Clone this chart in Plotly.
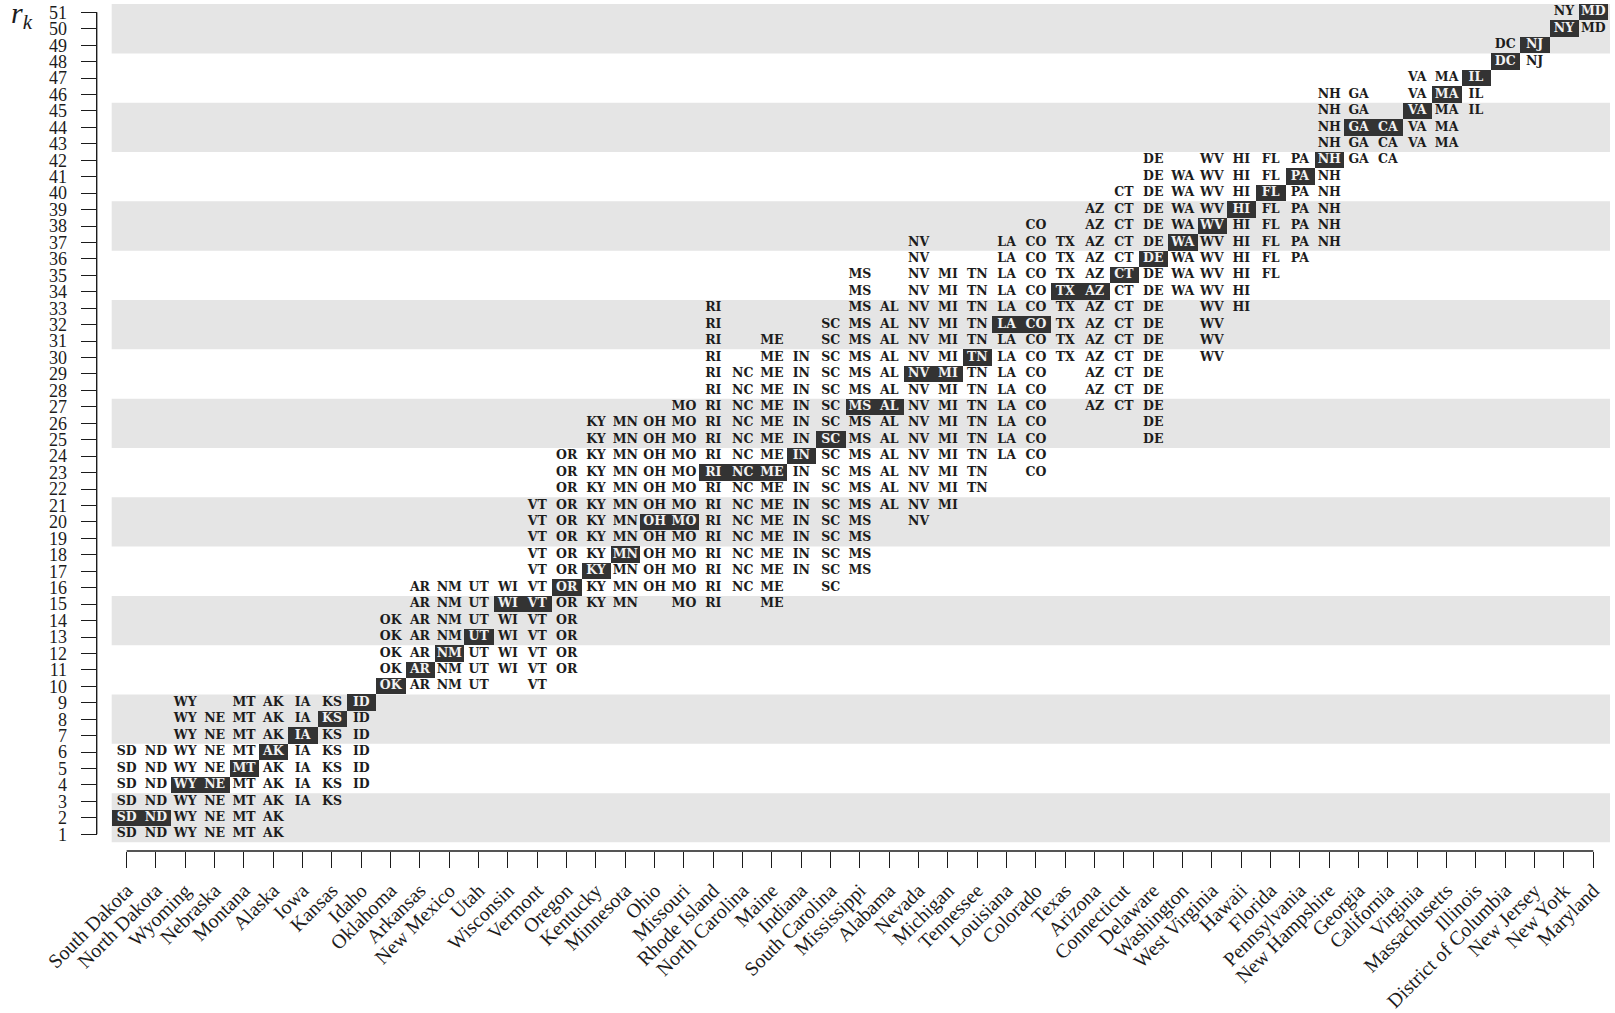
import plotly.graph_objects as go

# States ordered by point rank, with their abbreviations
STATE_NAMES = [
    "South Dakota", "North Dakota", "Wyoming", "Nebraska", "Montana", "Alaska",
    "Iowa", "Kansas", "Idaho", "Oklahoma", "Arkansas", "New Mexico", "Utah",
    "Wisconsin", "Vermont", "Oregon", "Kentucky", "Minnesota", "Ohio", "Missouri",
    "Rhode Island", "North Carolina", "Maine", "Indiana", "South Carolina",
    "Mississippi", "Alabama", "Nevada", "Michigan", "Tennessee", "Louisiana",
    "Colorado", "Texas", "Arizona", "Connecticut", "Delaware", "Washington",
    "West Virginia", "Hawaii", "Florida", "Pennsylvania", "New Hampshire",
    "Georgia", "California", "Virginia", "Massachusetts", "Illinois",
    "District of Columbia", "New Jersey", "New York", "Maryland",
]
ABBREVS = [
    "SD", "ND", "WY", "NE", "MT", "AK", "IA", "KS", "ID", "OK", "AR", "NM", "UT",
    "WI", "VT", "OR", "KY", "MN", "OH", "MO", "RI", "NC", "ME", "IN", "SC", "MS",
    "AL", "NV", "MI", "TN", "LA", "CO", "TX", "AZ", "CT", "DE", "WA", "WV", "HI",
    "FL", "PA", "NH", "GA", "CA", "VA", "MA", "IL", "DC", "NJ", "NY", "MD",
]
# Point estimate of each state's rank
POINT_RANK = [
    2, 2, 4, 4, 5, 6, 7, 8, 9, 10, 11, 12, 13, 15, 15, 16, 17, 18, 20, 20,
    23, 23, 23, 24, 25, 27, 27, 29, 29, 30, 32, 32, 34, 34, 35, 36, 37, 38,
    39, 40, 41, 42, 44, 44, 45, 46, 47, 48, 49, 50, 51,
]
# Lower and upper end of each state's plausible rank set
RANK_LOW = [
    1, 1, 1, 1, 1, 1, 3, 3, 4, 10, 10, 10, 10, 11, 10, 11, 15, 15, 16, 15,
    15, 16, 15, 17, 16, 17, 21, 20, 21, 22, 24, 23, 30, 27, 27, 25, 34, 30,
    33, 35, 36, 37, 42, 42, 43, 43, 45, 48, 48, 50, 50,
]
RANK_HIGH = [
    6, 6, 9, 8, 9, 9, 9, 9, 9, 14, 16, 16, 16, 16, 21, 24, 26, 26, 26, 27,
    33, 29, 31, 30, 32, 35, 33, 37, 35, 35, 37, 38, 37, 39, 40, 42, 41, 42,
    42, 42, 42, 46, 46, 44, 47, 47, 47, 49, 49, 51, 51,
]
RANKS = list(range(1, 52))

W, H = 1615, 1013
INK = "#1c1c1c"
BOX = "#333333"
BOX_TEXT = "#f2f2f2"
BAND = "#e5e5e5"
AXIS_FONT = "Liberation Serif"

cols = list(range(len(ABBREVS)))

# One text mark per (state, rank) in the state's rank set
xs, ys, labels, colors = [], [], [], []
for i, ab in enumerate(ABBREVS):
    for r in range(RANK_LOW[i], RANK_HIGH[i] + 1):
        xs.append(i)
        ys.append(r)
        labels.append(ab)
        colors.append(BOX_TEXT if r == POINT_RANK[i] else INK)

fig = go.Figure()

# Dark cell at each state's point rank
fig.add_trace(go.Bar(
    x=cols,
    y=[1] * len(cols),
    base=[r - 0.5 for r in POINT_RANK],
    width=1,
    marker=dict(color=BOX, line=dict(width=0)),
    hoverinfo="skip",
    showlegend=False,
))

fig.add_trace(go.Scatter(
    x=xs, y=ys, mode="text", text=labels,
    textposition="middle center",
    textfont=dict(family="DejaVu Serif", size=12.5, color=colors, weight="bold"),
    hoverinfo="skip",
    showlegend=False,
))

# Alternating grey bands every three ranks
shapes = []
for start in range(RANKS[0], RANKS[-1] + 1, 6):
    shapes.append(dict(
        type="rect", xref="x domain", x0=0, x1=1,
        yref="y", y0=start - 0.5, y1=start + 2.5,
        fillcolor=BAND, line=dict(width=0), layer="below",
    ))

Y_AXIS_POS = 96.7 / W
X_AXIS_POS = (H - 851) / H

# Trimmed axis spines
shapes.append(dict(
    type="line", xref="paper", x0=Y_AXIS_POS, x1=Y_AXIS_POS,
    yref="y", y0=RANKS[0], y1=RANKS[-1],
    line=dict(color=INK, width=1.4),
))
shapes.append(dict(
    type="line", xref="x", x0=cols[0], x1=cols[-1],
    yref="paper", y0=X_AXIS_POS, y1=X_AXIS_POS,
    line=dict(color=INK, width=1.4),
))

fig.update_layout(
    width=W, height=H,
    margin=dict(l=0, r=0, t=0, b=0),
    paper_bgcolor="white",
    plot_bgcolor="white",
    showlegend=False,
    bargap=0,
    shapes=shapes,
    xaxis=dict(
        domain=[111.7 / W, 1610 / W],
        range=[-0.51, 50.57],
        tickmode="array", tickvals=cols, ticktext=STATE_NAMES,
        tickangle=-45,
        ticks="outside", ticklen=16, tickwidth=1.3, tickcolor=INK,
        ticklabelstandoff=3,
        tickfont=dict(family=AXIS_FONT, size=20, color=INK),
        showline=False, showgrid=False, zeroline=False,
        anchor="free", position=X_AXIS_POS,
        automargin=False, fixedrange=True,
    ),
    yaxis=dict(
        domain=[(H - 842.5) / H, (H - 4.1) / H],
        range=[0.5, 51.5],
        tickmode="array", tickvals=RANKS, ticktext=[str(r) for r in RANKS],
        ticks="outside", ticklen=16, tickwidth=1.3, tickcolor=INK,
        ticklabelstandoff=10,
        tickfont=dict(family=AXIS_FONT, size=18, color=INK),
        showline=False, showgrid=False, zeroline=False,
        anchor="free", position=Y_AXIS_POS,
        automargin=False, fixedrange=True,
    ),
    annotations=[dict(
        text="<i>r</i><sub><i>k</i></sub>",
        xref="paper", yref="paper",
        x=9 / W, y=(H - 15) / H,
        xanchor="left", yanchor="middle",
        showarrow=False,
        font=dict(family=AXIS_FONT, size=30, color=INK),
    )],
)

fig.write_html("out.html")
